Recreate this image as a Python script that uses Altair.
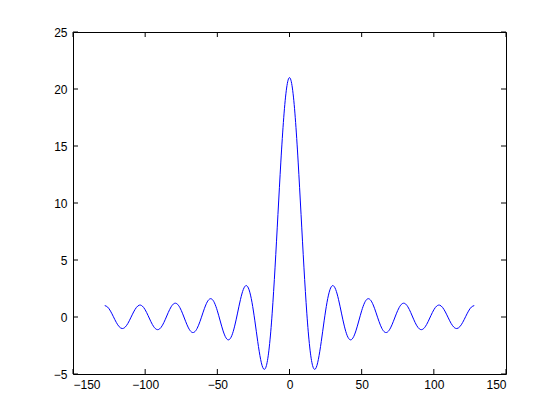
import altair as alt
import pandas as pd

x_vals = [-128, -126, -124, -122, -120, -118, -116, -114, -112, -110, -108, -106, -104, -102, -100,
          -98, -96, -94, -92, -90, -88, -86, -84, -82, -80, -78, -76, -74, -72, -70,
          -68, -66, -64, -62, -60, -58, -56, -54, -52, -50, -48, -46, -44, -42, -40,
          -38, -36, -34, -32, -30, -28, -26, -24, -22, -20, -18, -16, -14, -12, -10,
          -8, -6, -4, -2, 0, 2, 4, 6, 8, 10, 12, 14, 16, 18, 20, 22, 24, 26, 28, 30,
          32, 34, 36, 38, 40, 42, 44, 46, 48, 50, 52, 54, 56, 58, 60, 62, 64, 66, 68, 70,
          72, 74, 76, 78, 80, 82, 84, 86, 88, 90, 92, 94, 96, 98, 100, 102, 104, 106, 108, 110,
          112, 114, 116, 118, 120, 122, 124, 126, 128]

y_vals = [1.0, 0.870, 0.515, 0.025, -0.474, -0.851, -1.010, -0.907, -0.567, -0.075, 0.441,
          0.848, 1.040, 0.963, 0.633, 0.131, -0.414, -0.862, -1.094, -1.045, -0.719, -0.197,
          0.393, 0.896, 1.180, 1.161, 0.836, 0.278, -0.376, -0.957, -1.309, -1.331, -1.0,
          -0.387, 0.362, 1.056, 1.508, 1.586, 1.244, 0.545, -0.351, -1.221, -1.831, -1.999,
          -1.640, -0.801, 0.343, 1.518, 2.414, 2.758, 2.384, 1.292, -0.338, -2.159, -3.721,
          -4.552, -4.262, -2.630, 0.334, 4.371, 8.998, 13.590, 17.480, 20.085,
          21.0,
          20.085, 17.480, 13.590, 8.998, 4.371, 0.334, -2.630, -4.262, -4.552, -3.721, -2.159,
          -0.338, 1.292, 2.384, 2.758, 2.414, 1.518, 0.343, -0.801, -1.640, -1.999, -1.831,
          -1.221, -0.351, 0.545, 1.244, 1.586, 1.508, 1.056, 0.362, -0.387, -1.0, -1.331,
          -1.309, -0.957, -0.376, 0.278, 0.836, 1.161, 1.180, 0.896, 0.393, -0.197, -0.719,
          -1.045, -1.094, -0.862, -0.414, 0.131, 0.633, 0.963, 1.040, 0.848, 0.441, -0.075,
          -0.567, -0.907, -1.010, -0.851, -0.474, 0.025, 0.515, 0.870, 1.0]

x_ticks = [-150, -100, -50, 0, 50, 100, 150]
y_ticks = [-5, 0, 5, 10, 15, 20, 25]

W, H = 433, 342
TICK = 5

df = pd.DataFrame({"x": x_vals, "y": y_vals})
xt = pd.DataFrame({"x": x_ticks})
yt = pd.DataFrame({"y": y_ticks})
one = pd.DataFrame({"a": [0]})

xscale = alt.Scale(domain=[-150, 150], nice=False, zero=False)
yscale = alt.Scale(domain=[-5, 25], nice=False, zero=False)

axis_style = dict(ticks=False, domain=False, grid=False, labelFont="Liberation Sans",
                  labelFontSize=12, labelColor="black", title=None)

line = alt.Chart(df).mark_line(color="#0000ff", strokeWidth=1, clip=True,
                               interpolate="natural").encode(
    x=alt.X("x:Q", scale=xscale, axis=alt.Axis(values=x_ticks, labelPadding=5, **axis_style)),
    y=alt.Y("y:Q", scale=yscale, axis=alt.Axis(values=y_ticks, labelPadding=6, **axis_style)),
)

rule = dict(color="black", strokeWidth=1)
xb = alt.Chart(xt).mark_rule(**rule).encode(
    x=alt.X("x:Q", scale=xscale), y=alt.value(H), y2=alt.value(H - TICK))
xtop = alt.Chart(xt).mark_rule(**rule).encode(
    x=alt.X("x:Q", scale=xscale), y=alt.value(0), y2=alt.value(TICK))
yl = alt.Chart(yt).mark_rule(**rule).encode(
    y=alt.Y("y:Q", scale=yscale), x=alt.value(0), x2=alt.value(TICK))
yr = alt.Chart(yt).mark_rule(**rule).encode(
    y=alt.Y("y:Q", scale=yscale), x=alt.value(W), x2=alt.value(W - TICK))

frame = alt.Chart(one).mark_rect(fill=None, stroke="black", strokeWidth=1, filled=False).encode(
    x=alt.value(0.5), x2=alt.value(W + 0.5), y=alt.value(0.5), y2=alt.value(H + 0.5))

chart = alt.layer(line, xb, xtop, yl, yr, frame).properties(
    width=W, height=H,
    autosize=alt.AutoSizeParams(type="none"),
    padding={"left": 65, "top": 24, "right": 46, "bottom": 38},
).configure(background="white").configure_view(strokeWidth=0)

chart.save("out.html", embed_options={"renderer": "svg", "actions": False})
